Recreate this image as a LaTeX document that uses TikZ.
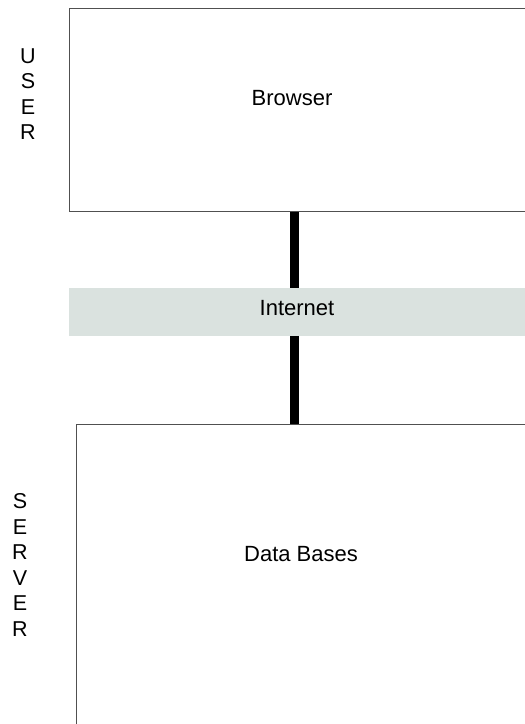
\documentclass[tikz,border=0pt]{standalone}
\usepackage{fontspec}
\setmainfont{Liberation Sans}
\definecolor{edgegray}{HTML}{505050}
\definecolor{netfill}{HTML}{DAE2DF}
\begin{document}
\begin{tikzpicture}[x=1pt,y=-1pt,
  tier/.style={draw=edgegray,line width=1.2pt,fill=white,anchor=north west,inner sep=0pt},
  band/.style={fill=netfill,anchor=north west,inner sep=0pt},
  caption/.style={font=\fontsize{22}{26}\selectfont,inner sep=0pt},
  sidetag/.style={font=\fontsize{21.5}{25.5}\selectfont,align=center,inner sep=0pt},
  link/.style={line width=9pt,black}]
\useasboundingbox (0,0) rectangle (525,724);
\clip (0,0) rectangle (525,724);
% client tier
\node[tier,minimum width=500pt,minimum height=203pt] (browser) at (69,8) {};
\node[caption] (browsertxt) at (292,98) {Browser};
% network band
\node[band,minimum width=500pt,minimum height=48pt] (inet) at (69,287.5) {};
\node[caption] (inettxt) at (297,308) {Internet};
% server tier
\node[tier,minimum width=500pt,minimum height=400pt] (db) at (76,424) {};
\node[caption] (dbtxt) at (301,554) {Data Bases};
% connectors along a common vertical axis
\coordinate (axis) at (294,0);
\draw[link] (browser.south -| axis) -- (inet.north -| axis);
\draw[link] (inet.south -| axis) -- (db.north -| axis);
% side tags
\node[sidetag] (usertag) at (28,94) {U\\S\\E\\R};
\node[sidetag] (servertag) at (20,565) {S\\E\\R\\V\\E\\R};
\end{tikzpicture}
\end{document}
